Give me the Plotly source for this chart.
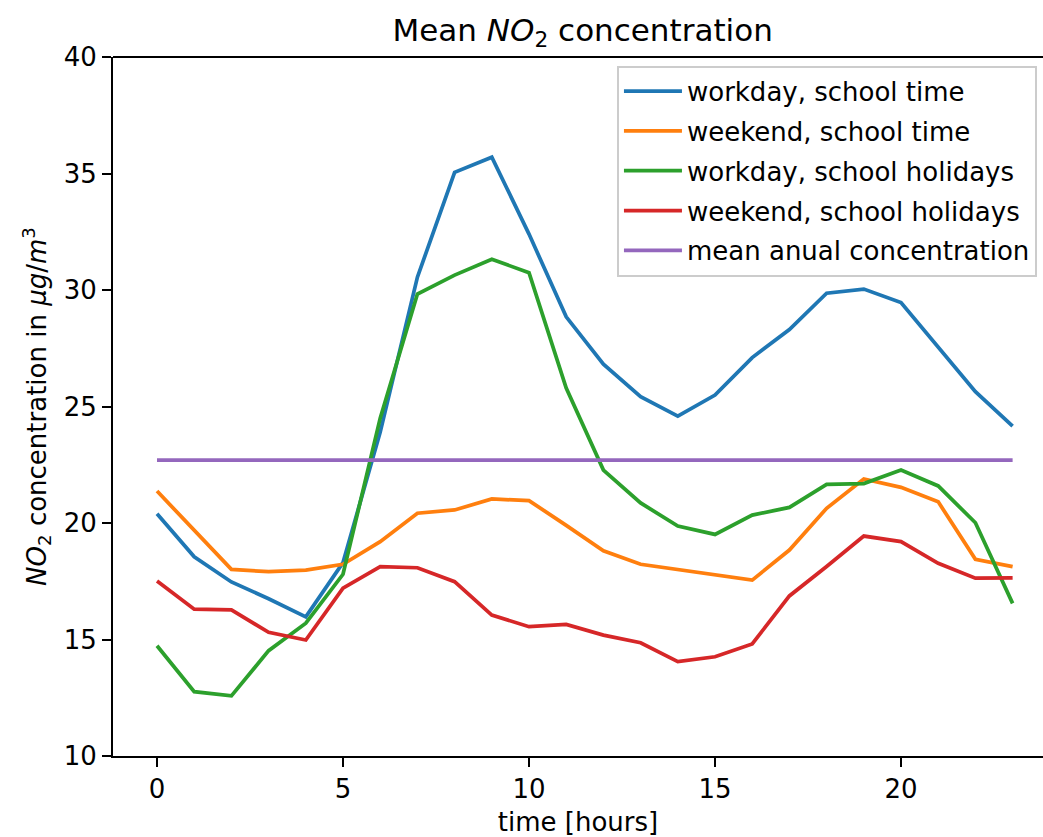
import plotly.graph_objects as go

hours = list(range(24))

workday_school = [20.4, 18.55, 17.47, 16.75, 15.97, 18.3, 23.9, 30.55, 35.05, 35.7,
                  32.4, 28.85, 26.82, 25.42, 24.59, 25.49, 27.1, 28.3, 29.86, 30.04,
                  29.46, 27.57, 25.64, 24.16]
weekend_school = [21.37, 19.7, 18.01, 17.91, 17.98, 18.23, 19.2, 20.42, 20.56, 21.03,
                  20.96, 19.9, 18.81, 18.23, 18.01, 17.8, 17.55, 18.84, 20.63, 21.89,
                  21.53, 20.91, 18.44, 18.13]
workday_holidays = [14.73, 12.76, 12.58, 14.52, 15.7, 17.8, 24.5, 29.83, 30.64, 31.32,
                    30.74, 25.79, 22.27, 20.86, 19.87, 19.51, 20.34, 20.67, 21.66, 21.69,
                    22.27, 21.59, 20.01, 16.55]
weekend_holidays = [17.51, 16.3, 16.27, 15.31, 14.98, 17.2, 18.13, 18.08, 17.48, 16.05,
                    15.55, 15.65, 15.19, 14.86, 14.05, 14.26, 14.81, 16.87, 18.13, 19.44,
                    19.2, 18.27, 17.63, 17.65]
mean_annual = 22.7

series_names = ["workday, school time", "weekend, school time",
                "workday, school holidays", "weekend, school holidays",
                "mean anual concentration"]
series_values = [workday_school, weekend_school, workday_holidays, weekend_holidays,
                 [mean_annual] * len(hours)]
colors = ["#1f77b4", "#ff7f0e", "#2ca02c", "#d62728", "#9467bd"]

FONT = "DejaVu Sans"
TXT = "black"

fig = go.Figure()
for i, (name, vals, col) in enumerate(zip(series_names, series_values, colors)):
    fig.add_trace(go.Scatter(
        x=hours, y=vals, mode="lines", name=name,
        line=dict(color=col, width=3.75),
        legendgroup=f"g{i}",
    ))

# top spine (right spine is outside the visible picture in the reference)
fig.add_shape(type="line", xref="paper", yref="paper", x0=0, x1=1, y0=1, y1=1,
              line=dict(color="black", width=2))

fig.update_layout(
    width=1043, height=837,
    margin=dict(l=113, r=0, t=57, b=81),
    paper_bgcolor="white", plot_bgcolor="white",
    font=dict(family=FONT, size=26, color=TXT),
    showlegend=True,
    title=dict(
        text="Mean <i>NO</i><sub>2</sub> concentration",
        font=dict(family=FONT, size=31, color=TXT),
        x=0.505, xref="paper", xanchor="center",
        y=1 - 30 / 837, yref="container", yanchor="middle",
    ),
    legend=dict(
        x=0.9935, xanchor="right", y=0.9875, yanchor="top",
        bgcolor="rgba(255,255,255,0.8)",
        bordercolor="#cccccc", borderwidth=2,
        font=dict(family=FONT, size=26, color=TXT),
        tracegroupgap=3, traceorder="grouped",
        itemwidth=58,
    ),
    xaxis=dict(
        range=[-1.183, 23.817],
        tickvals=[0, 5, 10, 15, 20],
        showgrid=False, zeroline=False,
        showline=True, linecolor="black", linewidth=2,
        ticks="outside", ticklen=9, tickwidth=2, tickcolor="black",
        tickfont=dict(family=FONT, size=26, color=TXT),
        title=dict(text="time [hours]", font=dict(family=FONT, size=26, color=TXT),
                   standoff=11),
    ),
    yaxis=dict(
        range=[10, 40],
        tickvals=[10, 15, 20, 25, 30, 35, 40],
        showgrid=False, zeroline=False,
        showline=True, linecolor="black", linewidth=2,
        ticks="outside", ticklen=9, tickwidth=2, tickcolor="black",
        tickfont=dict(family=FONT, size=26, color=TXT),
        title=dict(text="<i>NO</i><sub>2</sub> concentration in <i>μg</i>/<i>m</i><sup>3</sup>",
                   font=dict(family=FONT, size=26, color=TXT),
                   standoff=10),
    ),
)

fig.write_html("out.html")
